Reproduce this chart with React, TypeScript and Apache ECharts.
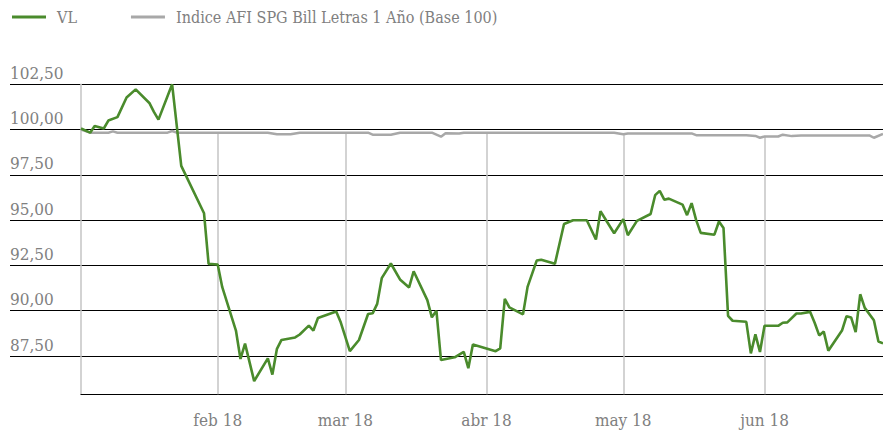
import React, { useEffect, useRef } from "react";
import * as echarts from "echarts";

const SERIES_VL_NAME = "VL";
const SERIES_IDX_NAME = "Indice AFI SPG Bill Letras 1 Año (Base 100)";

const VL_DATES = [
  "2018-01-02", "2018-01-04", "2018-01-05", "2018-01-07", "2018-01-08", "2018-01-10",
  "2018-01-12", "2018-01-14", "2018-01-17", "2018-01-18", "2018-01-19", "2018-01-22",
  "2018-01-24", "2018-01-29", "2018-01-30", "2018-02-01", "2018-02-02", "2018-02-05",
  "2018-02-06", "2018-02-07", "2018-02-09", "2018-02-12", "2018-02-13", "2018-02-14",
  "2018-02-15", "2018-02-18", "2018-02-19", "2018-02-21", "2018-02-22", "2018-02-23",
  "2018-02-27", "2018-02-28", "2018-03-02", "2018-03-04", "2018-03-06", "2018-03-07",
  "2018-03-08", "2018-03-09", "2018-03-11", "2018-03-13", "2018-03-15", "2018-03-16",
  "2018-03-19", "2018-03-20", "2018-03-21", "2018-03-22", "2018-03-25", "2018-03-27",
  "2018-03-28", "2018-03-29", "2018-04-03", "2018-04-04", "2018-04-05", "2018-04-06",
  "2018-04-09", "2018-04-10", "2018-04-12", "2018-04-13", "2018-04-16", "2018-04-18",
  "2018-04-20", "2018-04-23", "2018-04-25", "2018-04-26", "2018-04-29", "2018-05-01",
  "2018-05-02", "2018-05-04", "2018-05-07", "2018-05-08", "2018-05-09", "2018-05-10",
  "2018-05-11", "2018-05-14", "2018-05-15", "2018-05-16", "2018-05-17", "2018-05-18",
  "2018-05-21", "2018-05-22", "2018-05-23", "2018-05-24", "2018-05-25", "2018-05-28",
  "2018-05-29", "2018-05-30", "2018-05-31", "2018-06-01", "2018-06-04", "2018-06-05",
  "2018-06-06", "2018-06-08", "2018-06-09", "2018-06-11", "2018-06-12", "2018-06-13",
  "2018-06-14", "2018-06-15", "2018-06-18", "2018-06-19", "2018-06-20", "2018-06-21",
  "2018-06-22", "2018-06-23", "2018-06-25", "2018-06-26", "2018-06-27",
];

const VL_VALUES = [
  100.06, 99.83, 100.2, 100.06, 100.5, 100.69,
  101.77, 102.22, 101.47, 100.98, 100.55, 102.5,
  98.0, 95.38, 92.59, 92.55, 91.3, 88.91,
  87.34, 88.19, 86.12, 87.37, 86.48, 87.9,
  88.39, 88.53, 88.69, 89.18, 88.91, 89.6,
  89.96, 89.36, 87.77, 88.39, 89.82, 89.86,
  90.38, 91.8, 92.61, 91.73, 91.29, 92.18,
  90.59, 89.64, 90.0, 87.28, 87.43, 87.73,
  86.83, 88.14, 87.77, 87.92, 90.66, 90.19,
  89.8, 91.32, 92.77, 92.82, 92.59, 94.79,
  95.0, 95.0, 93.93, 95.49, 94.28, 95.06,
  94.17, 94.96, 95.34, 96.38, 96.62, 96.13,
  96.19, 95.86, 95.28, 95.94, 95.0, 94.3,
  94.2, 94.93, 94.57, 89.72, 89.45, 89.39,
  87.65, 88.7, 87.73, 89.17, 89.17, 89.34,
  89.36, 89.85, 89.85, 89.94, 89.34, 88.64,
  88.85, 87.79, 88.91, 89.7, 89.63, 88.82,
  90.91, 90.16, 89.48, 88.3, 88.2,
];

const IDX_DATES = [
  "2018-01-02", "2018-01-04", "2018-01-08", "2018-01-09", "2018-01-10", "2018-01-21",
  "2018-01-22", "2018-01-23", "2018-02-01", "2018-02-12", "2018-02-14", "2018-02-17",
  "2018-02-19", "2018-03-01", "2018-03-06", "2018-03-07", "2018-03-11", "2018-03-13",
  "2018-03-20", "2018-03-22", "2018-03-23", "2018-03-26", "2018-03-27", "2018-04-01",
  "2018-04-29", "2018-05-01", "2018-05-02", "2018-05-16", "2018-05-17", "2018-05-28",
  "2018-05-30", "2018-05-31", "2018-06-01", "2018-06-04", "2018-06-05", "2018-06-07",
  "2018-06-09", "2018-06-24", "2018-06-25", "2018-06-27",
];

const IDX_VALUES = [
  100.0, 99.83, 99.83, 99.9, 99.83, 99.83,
  99.92, 99.83, 99.83, 99.83, 99.74, 99.74,
  99.83, 99.83, 99.83, 99.72, 99.72, 99.83,
  99.83, 99.61, 99.8, 99.78, 99.83, 99.83,
  99.83, 99.74, 99.79, 99.79, 99.69, 99.69,
  99.65, 99.55, 99.62, 99.62, 99.72, 99.64,
  99.67, 99.68, 99.55, 99.76,
];

const MONTH_TICKS = ["2018-02-01", "2018-03-01", "2018-04-01", "2018-05-01", "2018-06-01"];
const MONTH_NAMES = ["ene", "feb", "mar", "abr", "may", "jun", "jul", "ago", "sep", "oct", "nov", "dic"];

const X_MIN = "2018-01-02";
const X_MAX = "2018-06-27";
const Y_GRID_MIN = 87.5;
const Y_MAX = 102.5;
const Y_INTERVAL = 2.5;
const Y_DATA_MIN = 85.39;

const GREEN = "#4a8b2c";
const GRAY = "#a8a8a8";
const TEXT = "#808080";
const FONT = "'Roboto Slab', 'DejaVu Serif Condensed', 'DejaVu Serif', serif";

const ts = (s: string) => new Date(s + "T00:00:00").getTime();

export default function App() {
  const ref = useRef<HTMLDivElement>(null);
  useEffect(() => {
    if (!ref.current) return;
    const chart = echarts.init(ref.current, null, { renderer: "svg" });

    const vlData = VL_DATES.map((d, i) => [ts(d), VL_VALUES[i]]);
    const idxData = IDX_DATES.map((d, i) => [ts(d), IDX_VALUES[i]]);
    const monthLines = MONTH_TICKS.map((m) => {
      const k = IDX_DATES.indexOf(m);
      const top = k >= 0 ? IDX_VALUES[k] : Y_MAX;
      return [{ coord: [ts(m), Y_DATA_MIN] }, { coord: [ts(m), top] }];
    });

    chart.setOption({
      animation: false,
      textStyle: { fontFamily: FONT },
      legend: {
        left: 12,
        top: 9,
        icon: "rect",
        itemWidth: 34,
        itemHeight: 3,
        itemGap: 54,
        padding: 0,
        textStyle: { fontSize: 16, color: TEXT, fontFamily: FONT, padding: [0, 0, 0, 6] },
        data: [SERIES_VL_NAME, SERIES_IDX_NAME],
      },
      grid: [
        { left: 10, right: 0, top: 84.3, bottom: 437 - 356 },
        { left: 81, right: 0, top: 84.3, bottom: 437 - 394.3 },
      ],
      xAxis: [
        { gridIndex: 0, type: "value", show: false, min: 0, max: 1 },
        {
          gridIndex: 1,
          type: "time",
          min: ts(X_MIN),
          max: ts(X_MAX),
          axisLine: { show: true, lineStyle: { color: "#000", width: 1.2 } },
          axisTick: { show: false },
          splitLine: { show: false },
          axisLabel: {
            margin: 17,
            fontSize: 17,
            color: TEXT,
            fontFamily: FONT,
            hideOverlap: false,
            formatter: (v: number) => {
              const d = new Date(v);
              return MONTH_NAMES[d.getMonth()] + " " + String(d.getFullYear()).slice(2);
            },
          },
        },
      ],
      yAxis: [
        {
          gridIndex: 0,
          type: "value",
          min: Y_GRID_MIN,
          max: Y_MAX,
          interval: Y_INTERVAL,
          axisLine: { show: false },
          axisTick: { show: false },
          splitLine: { show: true, lineStyle: { color: "#000", width: 1.2 } },
          axisLabel: {
            inside: true,
            margin: 0,
            fontSize: 17,
            color: TEXT,
            fontFamily: FONT,
            verticalAlign: "bottom",
            padding: [0, 0, 3, 0],
            formatter: (v: number) => v.toFixed(2).replace(".", ","),
          },
        },
        {
          gridIndex: 1,
          type: "value",
          min: Y_DATA_MIN,
          max: Y_MAX,
          axisLine: { show: true, lineStyle: { color: "#c4c4c4", width: 1.5 } },
          axisTick: { show: false },
          axisLabel: { show: false },
          splitLine: { show: false },
        },
      ],
      series: [
        {
          name: SERIES_IDX_NAME,
          type: "line",
          xAxisIndex: 1,
          yAxisIndex: 1,
          data: idxData,
          symbol: "none",
          lineStyle: { color: GRAY, width: 2.5 },
          itemStyle: { color: GRAY },
          z: 3,
          markLine: {
            silent: true,
            z: 1,
            symbol: ["none", "none"],
            label: { show: false },
            lineStyle: { type: "solid", color: "#c4c4c4", width: 1.5 },
            data: monthLines,
          },
        },
        {
          name: SERIES_VL_NAME,
          type: "line",
          xAxisIndex: 1,
          yAxisIndex: 1,
          data: vlData,
          symbol: "none",
          lineStyle: { color: GREEN, width: 2.6 },
          itemStyle: { color: GREEN },
          z: 4,
        },
      ],
    });
    return () => chart.dispose();
  }, []);
  return (
    <div
      ref={ref}
      style={{ position: "fixed", left: 0, top: 0, width: 883, height: 437, background: "#fff" }}
    />
  );
}
